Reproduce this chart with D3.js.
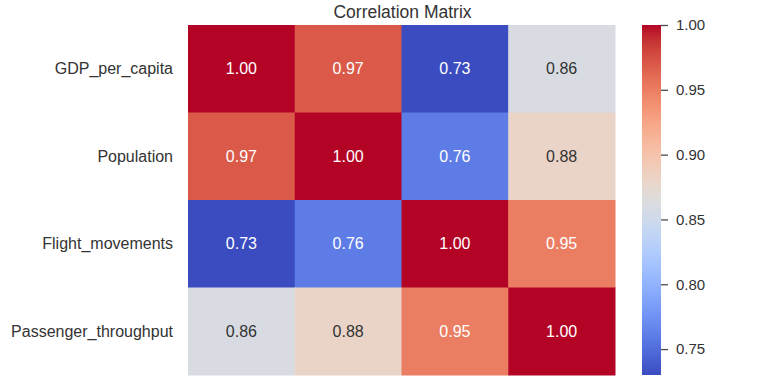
<!DOCTYPE html>
<html><head><meta charset="utf-8">
<script src="https://cdn.jsdelivr.net/npm/d3@7"></script>
<style>body{margin:0;background:#fff}svg{display:block}</style>
</head><body>
<svg id="c" width="768" height="387"></svg>
<script>
const variables = ["GDP_per_capita","Population","Flight_movements","Passenger_throughput"];
const row0 = [1.00, 0.97, 0.73, 0.86];
const row1 = [0.97, 1.00, 0.76, 0.88];
const row2 = [0.73, 0.76, 1.00, 0.95];
const row3 = [0.86, 0.88, 0.95, 1.00];
const matrix = [row0, row1, row2, row3];
const cbTicks = [0.75, 0.80, 0.85, 0.90, 0.95, 1.00];
const titleText = "Correlation Matrix";

// matplotlib coolwarm (Moreland) control points
const cw = [[59,76,192],[68,90,204],[77,104,215],[87,117,225],[98,130,234],[108,142,241],[119,154,247],[130,165,251],[141,176,254],[152,185,255],[163,194,255],[174,201,253],[184,208,249],[194,213,244],[204,217,238],[213,219,230],[221,221,221],[229,216,209],[236,211,197],[241,204,185],[245,196,173],[247,187,160],[247,177,148],[247,166,135],[244,154,123],[241,141,111],[236,127,99],[229,112,88],[222,96,77],[213,80,66],[203,62,56],[192,40,47],[180,4,38]];
const cwInterp = d3.piecewise(d3.interpolateRgb, cw.map(c => d3.rgb(c[0],c[1],c[2])));

const flat = matrix.flat();
const vmin = d3.min(flat), vmax = d3.max(flat);
const color = d3.scaleSequential(cwInterp).domain([vmin, vmax]);

const svg = d3.select("#c");
const font = "'Liberation Sans', Arial, Helvetica, sans-serif";
const L = 188, T = 25, R = 615, B = 375;
const x = d3.scaleBand().domain(d3.range(4)).range([L, R]);
const y = d3.scaleBand().domain(d3.range(4)).range([T, B]);

const cells = [];
matrix.forEach((r, i) => r.forEach((v, j) => cells.push({i, j, v})));

svg.selectAll("rect.cell").data(cells).join("rect")
  .attr("class","cell")
  .attr("x", d => x(d.j)).attr("y", d => y(d.i))
  .attr("width", x.bandwidth() + 0.5).attr("height", y.bandwidth() + 0.5)
  .attr("fill", d => color(d.v));

function lum(c){ const r = d3.rgb(c); const f = v => { v/=255; return v <= 0.03928 ? v/12.92 : Math.pow((v+0.055)/1.055, 2.4); }; return 0.2126*f(r.r)+0.7152*f(r.g)+0.0722*f(r.b); }

svg.selectAll("text.ann").data(cells).join("text")
  .attr("class","ann")
  .attr("x", d => x(d.j) + x.bandwidth()/2).attr("y", d => y(d.i) + y.bandwidth()/2)
  .attr("text-anchor","middle").attr("dominant-baseline","central")
  .attr("font-family", font).attr("font-size", 16)
  .attr("fill", d => lum(color(d.v)) > 0.408 ? "#333333" : "#ffffff")
  .text(d => d.v.toFixed(2));

// y labels
svg.selectAll("text.yl").data(variables).join("text")
  .attr("class","yl")
  .attr("x", L - 15).attr("y", (d,i) => y(i) + y.bandwidth()/2)
  .attr("text-anchor","end").attr("dominant-baseline","central")
  .attr("font-family", font).attr("font-size", 16).attr("fill","#333333")
  .text(d => d);

// title
svg.append("text").attr("x", (L+R)/2 + 1).attr("y", 18)
  .attr("text-anchor","middle").attr("font-family", font).attr("font-size", 17.5)
  .attr("fill","#333333").text(titleText);

// colorbar
const cbX = 642, cbW = 19;
const cy = d3.scaleLinear().domain([vmin, vmax]).range([B, T]);
const defs = svg.append("defs");
const grad = defs.append("linearGradient").attr("id","cbg").attr("x1",0).attr("y1",1).attr("x2",0).attr("y2",0);
d3.range(0, 1.0001, 0.02).forEach(t => grad.append("stop").attr("offset", t).attr("stop-color", cwInterp(t)));
svg.append("rect").attr("x", cbX).attr("y", T).attr("width", cbW).attr("height", B - T).attr("fill","url(#cbg)");

const cbAxis = d3.axisRight(cy).tickValues(cbTicks).tickFormat(d3.format(".2f")).tickSize(7).tickPadding(8);
const ga = svg.append("g").attr("transform", `translate(${cbX + cbW},0)`).call(cbAxis);
ga.select(".domain").remove();
ga.selectAll("line").attr("stroke","#4d4d4d").attr("stroke-width",1.3);
ga.selectAll("text").attr("font-family", font).attr("font-size", 15).attr("fill","#333333");
</script>
</body></html>
